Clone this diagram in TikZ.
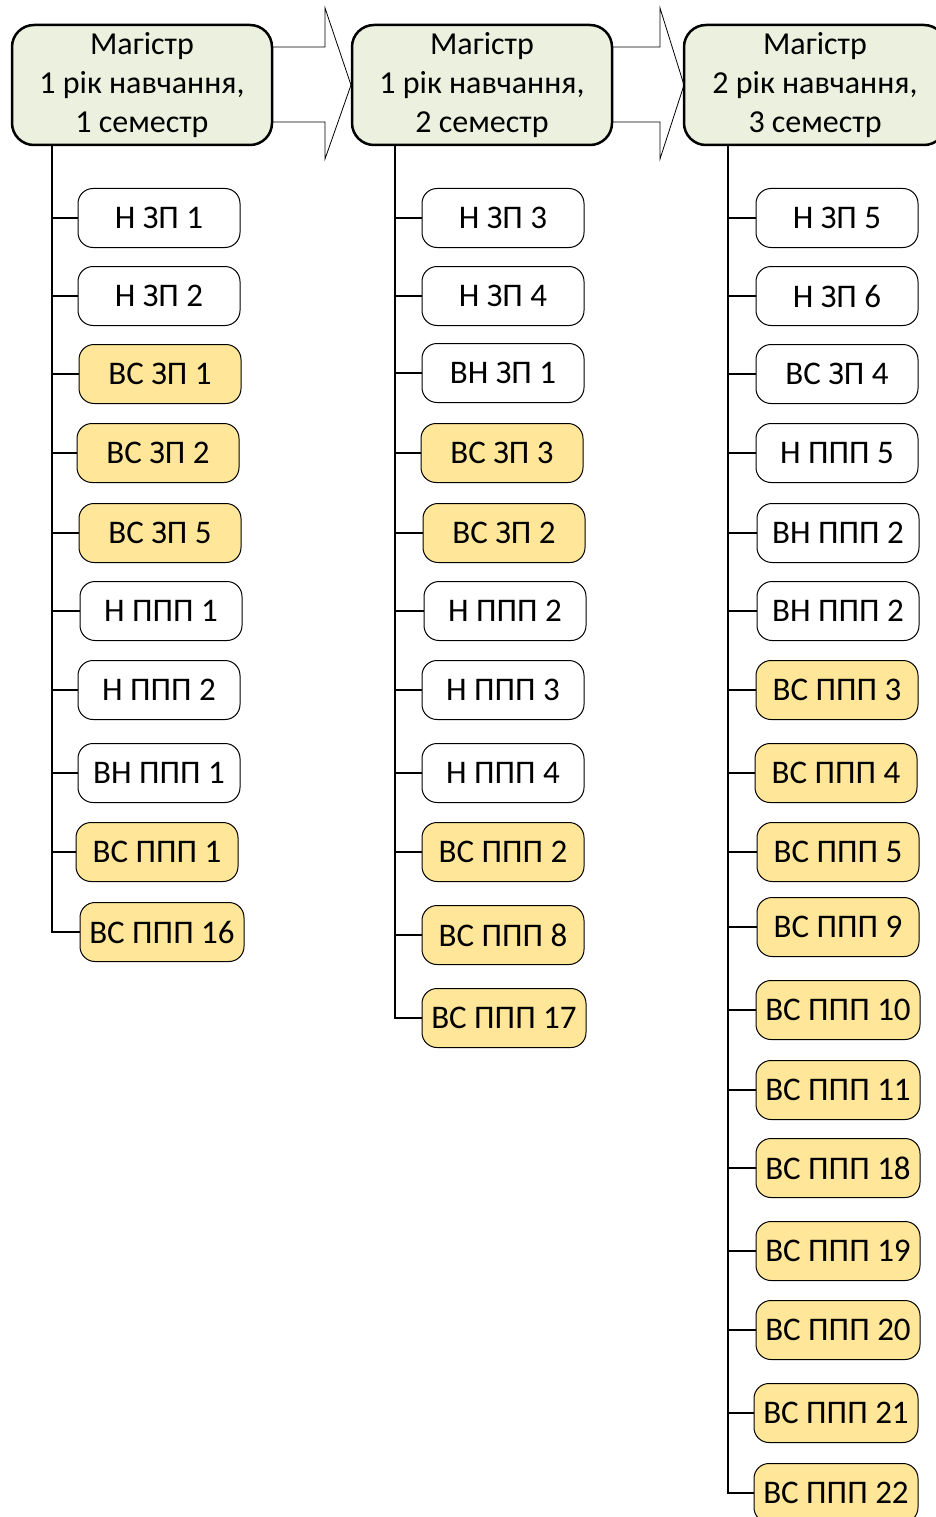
\documentclass[tikz,border=0pt]{standalone}
\usepackage{fontspec}
\setmainfont{Carlito}
\usepackage{tikz}
\usepackage{xcolor}
\definecolor{semgreen}{HTML}{EBF1DE}
\definecolor{optyellow}{HTML}{FFE699}

\begin{document}
\begin{tikzpicture}[x=1pt,y=-1pt]
	\tikzstyle{sem} = [draw=black, line width=2.5pt, fill=semgreen, rounded corners=22pt, minimum width=260pt, minimum height=120pt, align=center, inner sep=0pt, font=\fontsize{32}{39}\selectfont]
	\tikzstyle{must} = [draw=black, line width=1pt, fill=white, rounded corners=15pt, minimum width=162pt, minimum height=59pt, inner sep=0pt, font=\fontsize{33}{39}\selectfont]
	\tikzstyle{opt} = [must, fill=optyellow]
	\tikzstyle{trunk} = [draw=black, line width=2.5pt]
	\tikzstyle{stub} = [draw=black, line width=1.8pt]
	\tikzstyle{step arrow} = [draw=black, line width=0.8pt, fill=white]
	\useasboundingbox (0,0) rectangle (936,1517);
	% arrows between semesters
	\filldraw[step arrow] (265,47) -- (325,47) -- (325,8) -- (351,85) -- (325,159) -- (325,122) -- (265,122) -- cycle;
	\filldraw[step arrow] (605,47) -- (660,47) -- (660,8) -- (684,85) -- (660,159) -- (660,122) -- (605,122) -- cycle;
	% semesters
		\node[sem] (s1) at (142,85) {Магістр\\1 рік навчання,\\1 семестр};
		\node[sem] (s2) at (482,85) {Магістр\\1 рік навчання,\\2 семестр};
		\node[sem, minimum width=262pt] (s3) at (815,85) {Магістр\\2 рік навчання,\\3 семестр};
		\coordinate (t1) at (52,145);
		\coordinate (t2) at (395,145);
		\coordinate (t3) at (728,145);
	% first semester
		\node[must] (a1) at (159,218) {Н ЗП 1};
		\node[must] (a2) at (159,296) {Н ЗП 2};
		\node[opt] (a3) at (160,374) {ВС ЗП 1};
		\node[opt] (a4) at (158,453) {ВС ЗП 2};
		\node[opt] (a5) at (160,533) {ВС ЗП 5};
		\node[must] (a6) at (161,611) {Н ППП 1};
		\node[must] (a7) at (159,690) {Н ППП 2};
		\node[must] (a8) at (159,773) {ВН ППП 1};
		\node[opt] (a9) at (157,852) {ВС ППП 1};
		\node[opt, minimum width=164pt] (a10) at (162,932) {ВС ППП 16};
	% second semester
		\node[must] (b1) at (503,218) {Н ЗП 3};
		\node[must] (b2) at (503,296) {Н ЗП 4};
		\node[must] (b3) at (503,373) {ВН ЗП 1};
		\node[opt] (b4) at (502,453) {ВС ЗП 3};
		\node[opt] (b5) at (504,533) {ВС ЗП 2};
		\node[must] (b6) at (505,611) {Н ППП 2};
		\node[must] (b7) at (503,690) {Н ППП 3};
		\node[must] (b8) at (503,773) {Н ППП 4};
		\node[opt] (b9) at (503,852) {ВС ППП 2};
		\node[opt] (b10) at (503,935) {ВС ППП 8};
		\node[opt, minimum width=164pt] (b11) at (504,1018) {ВС ППП 17};
	% third semester
		\node[must] (c1) at (837,218) {Н ЗП 5};
		\node[must] (c2) at (837,296) {Н ЗП 6};
		\node[must] (c3) at (837,374) {ВС ЗП 4};
		\node[must] (c4) at (837,453) {Н ППП 5};
		\node[must] (c5) at (838,533) {ВН ППП 2};
		\node[must] (c6) at (838,611) {ВН ППП 2};
		\node[opt] (c7) at (837,690) {ВС ППП 3};
		\node[opt] (c8) at (836,773) {ВС ППП 4};
		\node[opt] (c9) at (838,852) {ВС ППП 5};
		\node[opt] (c10) at (838,927) {ВС ППП 9};
		\node[opt, minimum width=164pt] (c11) at (838,1010) {ВС ППП 10};
		\node[opt, minimum width=164pt] (c12) at (838,1090) {ВС ППП 11};
		\node[opt, minimum width=164pt] (c13) at (838,1168) {ВС ППП 18};
		\node[opt, minimum width=164pt] (c14) at (838,1251) {ВС ППП 19};
		\node[opt, minimum width=164pt] (c15) at (838,1330) {ВС ППП 20};
		\node[opt, minimum width=164pt] (c16) at (836,1413) {ВС ППП 21};
		\node[opt, minimum width=164pt] (c17) at (836,1493) {ВС ППП 22};
	\draw[trunk] (t1) |- (a10.west);
	\draw[trunk] (t2) |- (b11.west);
	\draw[trunk] (t3) |- (c17.west);
	\draw[stub] (a1.west -| t1) -- (a1.west) (a2.west -| t1) -- (a2.west) (a3.west -| t1) -- (a3.west)
		(a4.west -| t1) -- (a4.west) (a5.west -| t1) -- (a5.west) (a6.west -| t1) -- (a6.west)
		(a7.west -| t1) -- (a7.west) (a8.west -| t1) -- (a8.west) (a9.west -| t1) -- (a9.west);
	\draw[stub] (b1.west -| t2) -- (b1.west) (b2.west -| t2) -- (b2.west) (b3.west -| t2) -- (b3.west)
		(b4.west -| t2) -- (b4.west) (b5.west -| t2) -- (b5.west) (b6.west -| t2) -- (b6.west)
		(b7.west -| t2) -- (b7.west) (b8.west -| t2) -- (b8.west) (b9.west -| t2) -- (b9.west)
		(b10.west -| t2) -- (b10.west);
	\draw[stub] (c1.west -| t3) -- (c1.west) (c2.west -| t3) -- (c2.west) (c3.west -| t3) -- (c3.west)
		(c4.west -| t3) -- (c4.west) (c5.west -| t3) -- (c5.west) (c6.west -| t3) -- (c6.west)
		(c7.west -| t3) -- (c7.west) (c8.west -| t3) -- (c8.west) (c9.west -| t3) -- (c9.west)
		(c10.west -| t3) -- (c10.west) (c11.west -| t3) -- (c11.west) (c12.west -| t3) -- (c12.west)
		(c13.west -| t3) -- (c13.west) (c14.west -| t3) -- (c14.west) (c15.west -| t3) -- (c15.west)
		(c16.west -| t3) -- (c16.west);
	\end{tikzpicture}
\end{document}
